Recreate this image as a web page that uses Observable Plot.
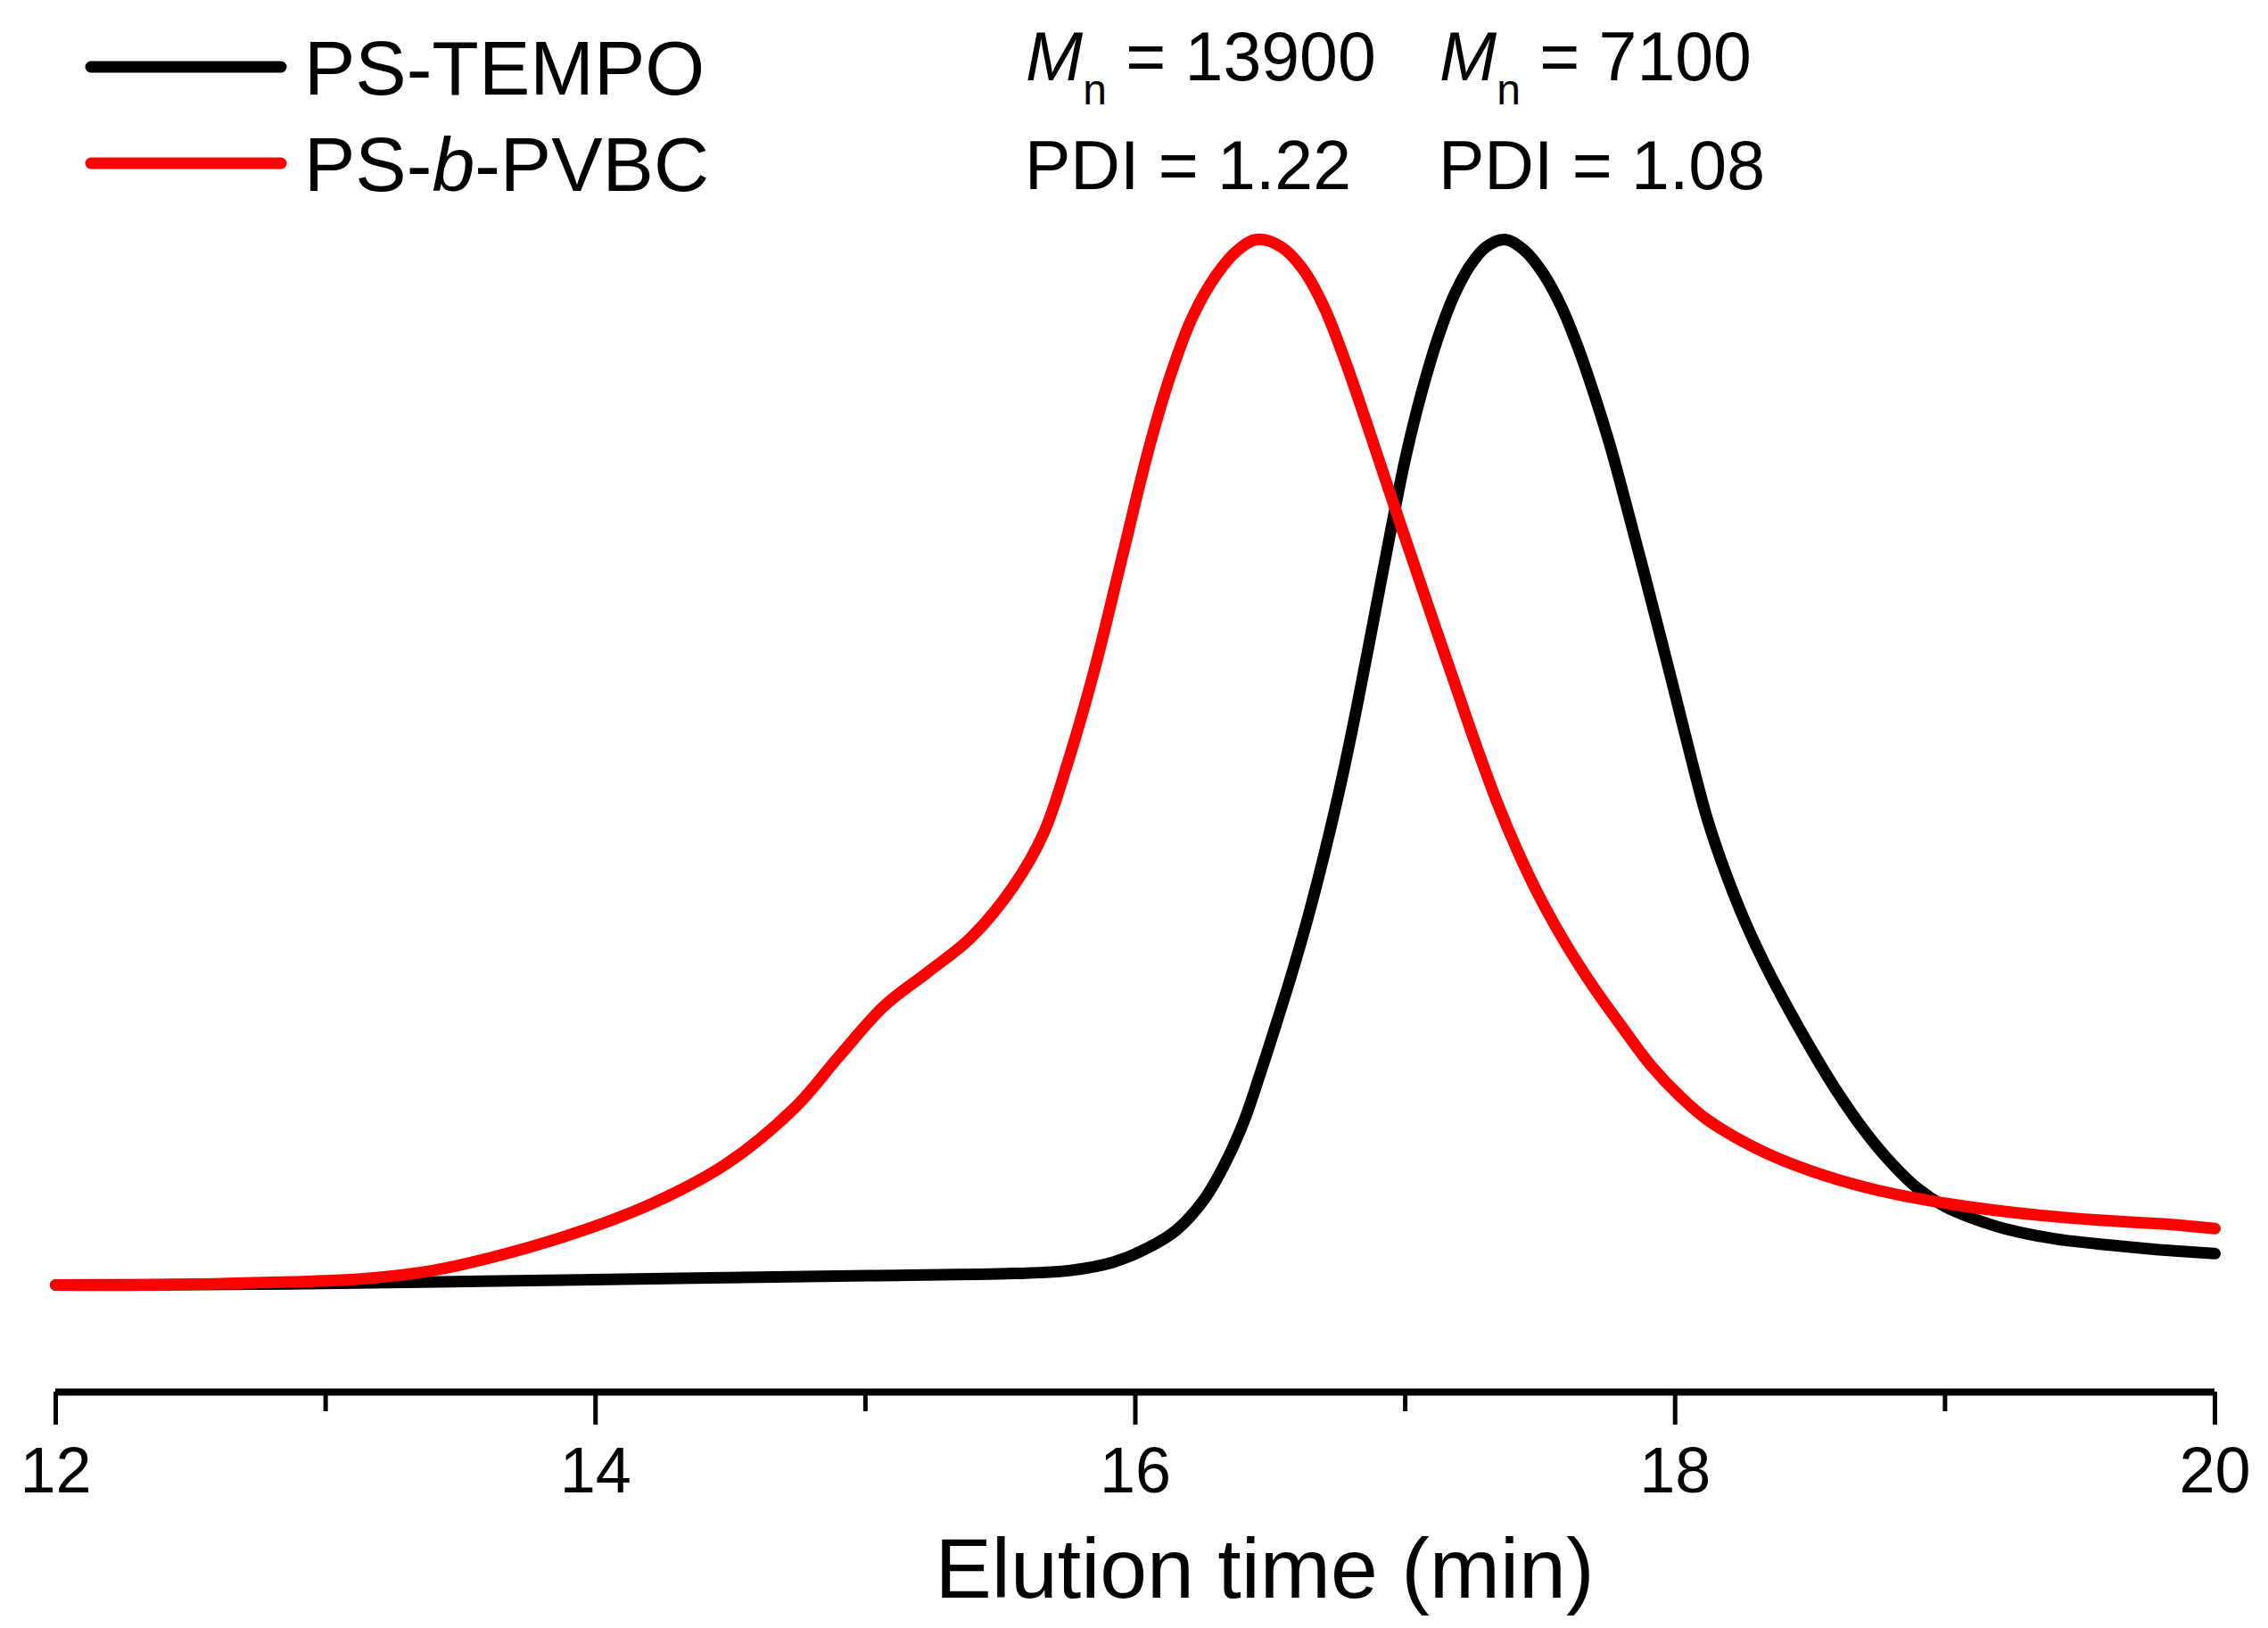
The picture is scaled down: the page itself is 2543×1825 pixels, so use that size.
<!DOCTYPE html>
<html>
<head>
<meta charset="utf-8">
<script src="https://cdn.jsdelivr.net/npm/d3@7"></script>
<script src="https://cdn.jsdelivr.net/npm/@observablehq/plot@0.6"></script>
<style>
  html, body { margin: 0; padding: 0; background: #ffffff; }
  #chart { position: relative; width: 2543px; height: 1825px; }
</style>
</head>
<body>
<div id="chart"></div>
<script>
// ---------- data ----------
const xLabel = "Elution time (min)";
const xMajorTicks = [12, 14, 16, 18, 20];
const xMinorTicks = [13, 15, 17, 19];

const seriesNames = ["PS-TEMPO", "PS-b-PVBC"];
const seriesColors = ["#000000", "#ff0000"];

// PS-TEMPO (black) – normalised detector signal vs elution time
const tempoTime = [12.00, 12.87, 13.94, 15.01, 15.55, 15.76, 15.92, 16.05, 16.15, 16.25,
  16.33, 16.40, 16.46, 16.52, 16.58, 16.64, 16.70, 16.76, 16.82, 16.88,
  16.94, 17.00, 17.06, 17.12, 17.18, 17.24, 17.30, 17.37, 17.44, 17.51,
  17.58, 17.64, 17.70, 17.76, 17.82, 17.88, 17.94, 18.00, 18.06, 18.12,
  18.19, 18.26, 18.34, 18.42, 18.51, 18.60, 18.70, 18.80, 18.90, 19.00,
  19.10, 19.22, 19.41, 19.62, 19.83, 20.00];
const tempoSignal = [0.000, 0.001, 0.005, 0.009, 0.011, 0.014, 0.022, 0.036, 0.052, 0.080,
  0.115, 0.155, 0.200, 0.248, 0.298, 0.352, 0.412, 0.478, 0.552, 0.632,
  0.713, 0.790, 0.853, 0.905, 0.946, 0.975, 0.993, 1.000, 0.990, 0.968,
  0.935, 0.897, 0.852, 0.802, 0.745, 0.686, 0.626, 0.565, 0.503, 0.445,
  0.392, 0.347, 0.303, 0.264, 0.223, 0.185, 0.148, 0.117, 0.092, 0.075,
  0.064, 0.054, 0.044, 0.038, 0.033, 0.030];

// PS-b-PVBC (red)
const pvbcTime = [12.00, 12.33, 12.87, 13.14, 13.40, 13.67, 13.94, 14.21, 14.48, 14.74,
  14.90, 15.07, 15.23, 15.39, 15.55, 15.66, 15.75, 15.85, 15.95, 16.05,
  16.13, 16.21, 16.30, 16.38, 16.45, 16.54, 16.62, 16.70, 16.78, 16.86,
  16.94, 17.02, 17.10, 17.18, 17.26, 17.34, 17.42, 17.50, 17.60, 17.70,
  17.80, 17.91, 18.02, 18.12, 18.33, 18.55, 18.76, 19.03, 19.30, 19.57,
  19.83, 20.00];
const pvbcSignal = [0.000, 0.000, 0.003, 0.006, 0.014, 0.030, 0.051, 0.078, 0.115, 0.170,
  0.218, 0.267, 0.299, 0.332, 0.382, 0.432, 0.500, 0.590, 0.695, 0.800,
  0.870, 0.925, 0.966, 0.990, 1.000, 0.993, 0.972, 0.935, 0.882, 0.822,
  0.760, 0.699, 0.638, 0.578, 0.518, 0.462, 0.413, 0.370, 0.324, 0.284,
  0.248, 0.210, 0.180, 0.158, 0.127, 0.105, 0.090, 0.077, 0.068, 0.062,
  0.058, 0.054];

const mnValues = ["13900", "7100"];
const pdiValues = ["1.22", "1.08"];

// ---------- build table ----------
const rows = [];
tempoTime.forEach((t, i) => rows.push({series: seriesNames[0], t, s: tempoSignal[i]}));
pvbcTime.forEach((t, i) => rows.push({series: seriesNames[1], t, s: pvbcSignal[i]}));

const FONT = "'Liberation Sans', Arial, Helvetica, sans-serif";
const yMin = -0.1024;

const plot = Plot.plot({
  width: 2543,
  height: 1825,
  marginLeft: 62,
  marginRight: 60,
  marginTop: 268,
  marginBottom: 265,
  style: {fontFamily: FONT, background: "#ffffff", color: "#000000", overflow: "visible"},
  x: {domain: [12, 20]},
  y: {domain: [yMin, 1], axis: null},
  color: {domain: seriesNames, range: seriesColors},
  marks: [
    Plot.line(rows, {
      x: "t", y: "s", z: "series", stroke: "series",
      strokeWidth: 13, curve: "catmull-rom", strokeLinejoin: "round"
    }),
    Plot.ruleY([yMin], {stroke: "#000000", strokeWidth: 8}),
    Plot.axisX({
      ticks: xMajorTicks, tickSize: 37, tickPadding: 24, strokeWidth: 5,
      fontSize: 72, fill: "#000000", label: null, tickFormat: d => String(d)
    }),
    Plot.axisX({
      ticks: xMinorTicks, tickSize: 22, strokeWidth: 5, text: null, label: null
    }),
    Plot.text([xLabel], {
      frameAnchor: "bottom", lineAnchor: "bottom", dx: 145, dy: 230,
      fontSize: 95, fill: "#000000"
    })
  ]
});

document.getElementById("chart").appendChild(plot);

// ---------- legend and annotations (rich text) ----------
const svg = d3.select(plot);
const legendRows = [
  {name: seriesNames[0], color: seriesColors[0], y: 75},
  {name: seriesNames[1], color: seriesColors[1], y: 183}
];
const lg = svg.append("g")
  .attr("font-family", FONT).attr("font-size", 86).attr("fill", "#000")
  .attr("text-anchor", "start");
legendRows.forEach(r => {
  lg.append("line").attr("x1", 102).attr("x2", 315).attr("y1", r.y).attr("y2", r.y)
    .attr("stroke", r.color).attr("stroke-width", 13).attr("stroke-linecap", "round");
  const t = lg.append("text").attr("x", 341).attr("y", r.y + 31);
  if (r.name.includes("-b-")) {
    t.append("tspan").text("PS-");
    t.append("tspan").attr("font-style", "italic").text("b");
    t.append("tspan").text("-PVBC");
  } else {
    t.text(r.name);
  }
});

const ann = svg.append("g")
  .attr("font-family", FONT).attr("font-size", 77).attr("fill", "#000")
  .attr("text-anchor", "start");
const annX = [1150, 1614];
mnValues.forEach((v, i) => {
  const t = ann.append("text").attr("x", annX[i]).attr("y", 90);
  t.append("tspan").attr("font-style", "italic").text("M");
  t.append("tspan").attr("font-size", 48).attr("dy", 27).text("n");
  t.append("tspan").attr("dy", -27).text(" = " + v);
});
pdiValues.forEach((v, i) => {
  ann.append("text").attr("x", annX[i] - 1).attr("y", 212).text("PDI = " + v);
});
</script>
</body>
</html>
